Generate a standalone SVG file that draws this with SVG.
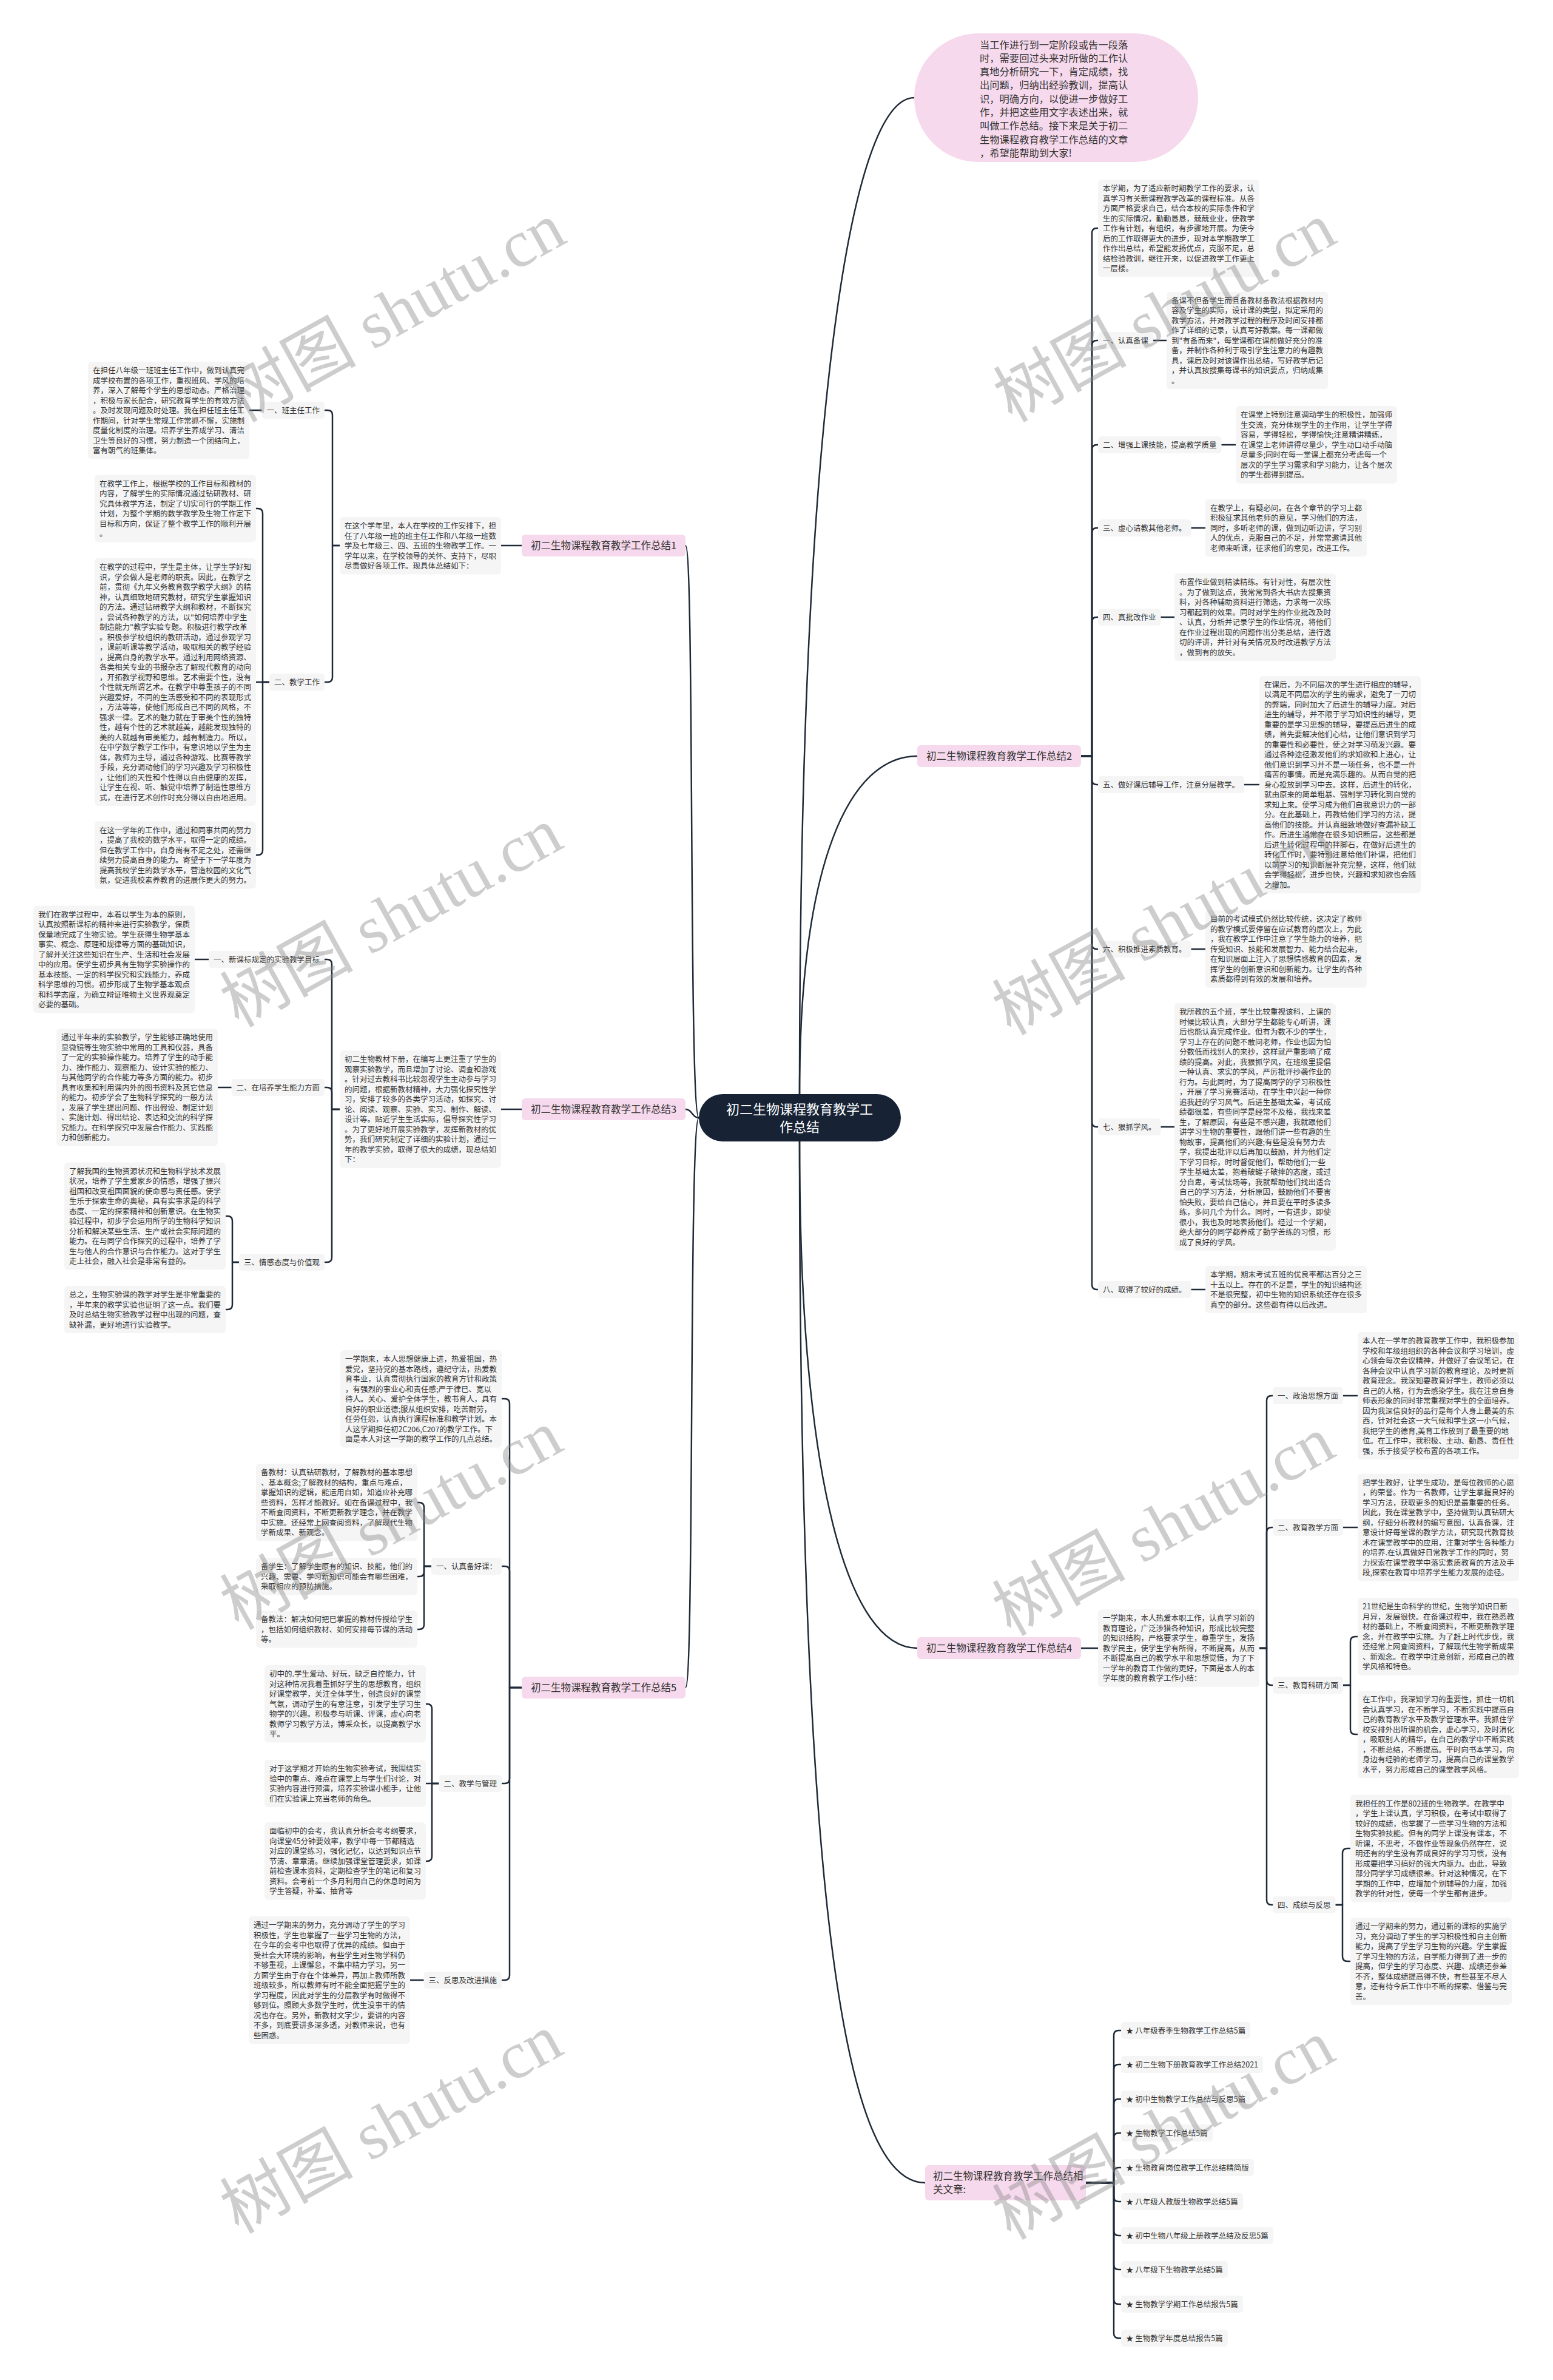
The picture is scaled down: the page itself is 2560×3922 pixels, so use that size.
<svg xmlns="http://www.w3.org/2000/svg" width="2560" height="3922" viewBox="0 0 2560 3922">
<style>
.c{fill:none;stroke:#1f2a38;stroke-width:2.5;stroke-linecap:round;stroke-linejoin:round}
.b{fill:#f5f5f5}
.p{fill:#f6d9ec}
.t{font-family:"Noto Sans CJK SC","Noto Sans",sans-serif;font-size:12.5px;fill:#333}
.t1{font-family:"Noto Sans CJK SC","Noto Sans",sans-serif;font-size:16.5px;fill:#333}
.ti{font-family:"Noto Sans CJK SC","Noto Sans",sans-serif;font-size:16.3px;fill:#333}
.tr{font-family:"Noto Sans CJK SC","Noto Sans",sans-serif;font-size:22px;fill:#ffffff}
.wm{font-family:"Liberation Serif","Noto Sans CJK SC",serif;font-size:110px;fill:#8a8a8a;opacity:.42}
</style>
<rect width="2560" height="3922" fill="#ffffff"/>

<g id="connectors">
<path class="c" d="M1318,1803 C1318,700 1400,161 1507,161"/>
<path class="c" d="M1318,1803 C1318,1420 1400,1246 1512,1246"/>
<path class="c" d="M1318,1881 C1318,2450 1400,2716 1512,2716"/>
<path class="c" d="M1318,1881 C1318,3200 1400,3597 1525,3597"/>
<path class="c" d="M1152,1842 C1135,1842 1145,899 1130,899"/>
<path class="c" d="M1152,1842 C1141,1842 1141,1828 1130,1828"/>
<path class="c" d="M1152,1842 C1135,1842 1145,2781 1130,2781"/>
<path class="c" d="M860,899 H826"/>
<path class="c" d="M560,899 H548 V684 Q548,676 540,676 H535"/>
<path class="c" d="M560,899 H548 V1116 Q548,1124 540,1124 H535"/>
<path class="c" d="M431.5,676 H411"/>
<path class="c" d="M444,1124 H433 V846 Q433,838 425,838 H422"/>
<path class="c" d="M444,1124 H422"/>
<path class="c" d="M444,1124 H433 V1401 Q433,1409 425,1409 H422"/>
<path class="c" d="M860,1828 H826"/>
<path class="c" d="M560,1828 H547 V1589 Q547,1581 539,1581 H535"/>
<path class="c" d="M560,1828 H547 V1800 Q547,1792 539,1792 H535"/>
<path class="c" d="M560,1828 H547 V2072 Q547,2080 539,2080 H535"/>
<path class="c" d="M344,1581 H321"/>
<path class="c" d="M381.5,1792 H359"/>
<path class="c" d="M394,2080 H383 V2012 Q383,2004 375,2004 H372"/>
<path class="c" d="M394,2080 H383 V2150 Q383,2158 375,2158 H372"/>
<path class="c" d="M860,2781 H840 V2313 Q840,2305 832,2305 H827"/>
<path class="c" d="M860,2781 H840 V2589 Q840,2581 832,2581 H827"/>
<path class="c" d="M860,2781 H840 V2931 Q840,2939 832,2939 H827"/>
<path class="c" d="M860,2781 H840 V3255 Q840,3263 832,3263 H827"/>
<path class="c" d="M711,2581 H699 V2484 Q699,2476 691,2476 H688"/>
<path class="c" d="M711,2581 H699 V2590 Q699,2598 691,2598 H688"/>
<path class="c" d="M711,2581 H699 V2677 Q699,2685 691,2685 H688"/>
<path class="c" d="M723.5,2939 H712 V2816 Q712,2808 704,2808 H702"/>
<path class="c" d="M723.5,2939 H702"/>
<path class="c" d="M723.5,2939 H712 V3059 Q712,3067 704,3067 H702"/>
<path class="c" d="M698.5,3263 H676"/>
<path class="c" d="M1782,1246 H1800 V384 Q1800,376 1808,376 H1810"/>
<path class="c" d="M1782,1246 H1800 V569 Q1800,561 1808,561 H1810"/>
<path class="c" d="M1782,1246 H1800 V741 Q1800,733 1808,733 H1810"/>
<path class="c" d="M1782,1246 H1800 V878 Q1800,870 1808,870 H1810"/>
<path class="c" d="M1782,1246 H1800 V1025 Q1800,1017 1808,1017 H1810"/>
<path class="c" d="M1782,1246 H1800 V1285 Q1800,1293 1808,1293 H1810"/>
<path class="c" d="M1782,1246 H1800 V1556 Q1800,1564 1808,1564 H1810"/>
<path class="c" d="M1782,1246 H1800 V1849 Q1800,1857 1808,1857 H1810"/>
<path class="c" d="M1782,1246 H1800 V2117 Q1800,2125 1808,2125 H1810"/>
<path class="c" d="M1901,561 H1923"/>
<path class="c" d="M2013.5,733 H2037"/>
<path class="c" d="M1963.5,870 H1987"/>
<path class="c" d="M1913.5,1017 H1936"/>
<path class="c" d="M2051,1293 H2076"/>
<path class="c" d="M1963.5,1564 H1987"/>
<path class="c" d="M1913.5,1857 H1936"/>
<path class="c" d="M1963.5,2125 H1987"/>
<path class="c" d="M1782,2716 H1810"/>
<path class="c" d="M2076,2716 H2088 V2308 Q2088,2300 2096,2300 H2098"/>
<path class="c" d="M2076,2716 H2088 V2525 Q2088,2517 2096,2517 H2098"/>
<path class="c" d="M2076,2716 H2088 V2769 Q2088,2777 2096,2777 H2098"/>
<path class="c" d="M2076,2716 H2088 V3131 Q2088,3139 2096,3139 H2098"/>
<path class="c" d="M2214,2300 H2238"/>
<path class="c" d="M2214,2517 H2238"/>
<path class="c" d="M2214,2777 H2226 V2705 Q2226,2697 2234,2697 H2238"/>
<path class="c" d="M2214,2777 H2226 V2850 Q2226,2858 2234,2858 H2238"/>
<path class="c" d="M2201.5,3139 H2213 V3054 Q2213,3046 2221,3046 H2226"/>
<path class="c" d="M2201.5,3139 H2213 V3224 Q2213,3232 2221,3232 H2226"/>
<path class="c" d="M1790,3597 H1836 V3354 Q1836,3346 1844,3346 H1848"/>
<path class="c" d="M1790,3597 H1836 V3410 Q1836,3402 1844,3402 H1848"/>
<path class="c" d="M1790,3597 H1836 V3467 Q1836,3459 1844,3459 H1848"/>
<path class="c" d="M1790,3597 H1836 V3523 Q1836,3515 1844,3515 H1848"/>
<path class="c" d="M1790,3597 H1836 V3580 Q1836,3572 1844,3572 H1848"/>
<path class="c" d="M1790,3597 H1836 V3620 Q1836,3628 1844,3628 H1848"/>
<path class="c" d="M1790,3597 H1836 V3676 Q1836,3684 1844,3684 H1848"/>
<path class="c" d="M1790,3597 H1836 V3732 Q1836,3740 1844,3740 H1848"/>
<path class="c" d="M1790,3597 H1836 V3789 Q1836,3797 1844,3797 H1848"/>
<path class="c" d="M1790,3597 H1836 V3845 Q1836,3853 1844,3853 H1848"/>
</g>

<g id="root"><rect x="1152" y="1803" width="333" height="78" rx="39" fill="#172335"/>
<text class="tr" x="1318" y="1836" text-anchor="middle">初二生物课程教育教学工<tspan x="1318" dy="29">作总结</tspan></text></g>

<g id="intro"><rect class="p" x="1507" y="55" width="468" height="212" rx="106"/>
<text class="ti" x="1615" y="79.5">当工作进行到一定阶段或告一段落<tspan x="1615" dy="22.3">时，需要回过头来对所做的工作认</tspan><tspan x="1615" dy="22.3">真地分析研究一下，肯定成绩，找</tspan><tspan x="1615" dy="22.3">出问题，归纳出经验教训，提高认</tspan><tspan x="1615" dy="22.3">识，明确方向，以便进一步做好工</tspan><tspan x="1615" dy="22.3">作，并把这些用文字表述出来，就</tspan><tspan x="1615" dy="22.3">叫做工作总结。接下来是关于初二</tspan><tspan x="1615" dy="22.3">生物课程教育教学工作总结的文章</tspan><tspan x="1615" dy="22.3">，希望能帮助到大家!</tspan></text></g>

<g id="b1"><rect class="p" x="860" y="881" width="270" height="36" rx="6"/><text class="t1" x="995" y="905" text-anchor="middle">初二生物课程教育教学工作总结1</text></g>
<g id="b1-intro"><rect class="b" x="560" y="852" width="266" height="94.5" rx="6"/>
<text class="t" x="568" y="871">在这个学年里，本人在学校的工作安排下，担<tspan x="568" dy="16.5">任了八年级一班的班主任工作和八年级一班数</tspan><tspan x="568" dy="16.5">学及七年级三、四、五班的生物教学工作。一</tspan><tspan x="568" dy="16.5">学年以来，在学校领导的关怀、支持下，尽职</tspan><tspan x="568" dy="16.5">尽责做好各项工作。现具体总结如下：</tspan></text></g>
<g id="b1-l1"><rect class="b" x="431.5" y="662" width="103.5" height="28" rx="5"/><text class="t" x="439.5" y="680.5">一、班主任工作</text></g>
<g id="b1-l1-t"><rect class="b" x="145" y="596" width="266" height="160.5" rx="6"/>
<text class="t" x="153" y="615">在担任八年级一班班主任工作中，做到认真完<tspan x="153" dy="16.5">成学校布置的各项工作，重视班风、学风的培</tspan><tspan x="153" dy="16.5">养，深入了解每个学生的思想动态。严格治理</tspan><tspan x="153" dy="16.5">，积极与家长配合，研究教育学生的有效方法</tspan><tspan x="153" dy="16.5">。及时发现问题及时处理。我在担任班主任工</tspan><tspan x="153" dy="16.5">作期间，针对学生常规工作常抓不懈，实施制</tspan><tspan x="153" dy="16.5">度量化制度的治理。培养学生养成学习、清洁</tspan><tspan x="153" dy="16.5">卫生等良好的习惯，努力制造一个团结向上，</tspan><tspan x="153" dy="16.5">富有朝气的班集体。</tspan></text></g>
<g id="b1-l2"><rect class="b" x="444" y="1110" width="91" height="28" rx="5"/><text class="t" x="452" y="1128.5">二、教学工作</text></g>
<g id="b1-l2-a"><rect class="b" x="156" y="782.5" width="266" height="111" rx="6"/>
<text class="t" x="164" y="801.5">在教学工作上，根据学校的工作目标和教材的<tspan x="164" dy="16.5">内容，了解学生的实际情况通过钻研教材、研</tspan><tspan x="164" dy="16.5">究具体教学方法，制定了切实可行的学期工作</tspan><tspan x="164" dy="16.5">计划，为整个学期的数学教学及生物工作定下</tspan><tspan x="164" dy="16.5">目标和方向，保证了整个教学工作的顺利开展</tspan><tspan x="164" dy="16.5">。</tspan></text></g>
<g id="b1-l2-b"><rect class="b" x="156" y="920" width="266" height="408" rx="6"/>
<text class="t" x="164" y="939">在教学的过程中，学生是主体，让学生学好知<tspan x="164" dy="16.5">识，学会做人是老师的职责。因此，在教学之</tspan><tspan x="164" dy="16.5">前，贯彻《九年义务教育数学教学大纲》的精</tspan><tspan x="164" dy="16.5">神，认真细致地研究教材，研究学生掌握知识</tspan><tspan x="164" dy="16.5">的方法。通过钻研教学大纲和教材，不断探究</tspan><tspan x="164" dy="16.5">，尝试各种教学的方法，以"如何培养中学生</tspan><tspan x="164" dy="16.5">制造能力"教学实验专题。积极进行教学改革</tspan><tspan x="164" dy="16.5">。积极参学校组织的教研活动，通过参观学习</tspan><tspan x="164" dy="16.5">，课前听课等教学活动，吸取相关的教学经验</tspan><tspan x="164" dy="16.5">，提高自身的教学水平。通过利用网络资源、</tspan><tspan x="164" dy="16.5">各类相关专业的书报杂志了解现代教育的动向</tspan><tspan x="164" dy="16.5">，开拓教学视野和思维。艺术需要个性，没有</tspan><tspan x="164" dy="16.5">个性就无所谓艺术。在教学中尊重孩子的不同</tspan><tspan x="164" dy="16.5">兴趣爱好，不同的生活感受和不同的表现形式</tspan><tspan x="164" dy="16.5">，方法等等，使他们形成自己不同的风格，不</tspan><tspan x="164" dy="16.5">强求一律。艺术的魅力就在于审美个性的独特</tspan><tspan x="164" dy="16.5">性，越有个性的艺术就越美，越能发现独特的</tspan><tspan x="164" dy="16.5">美的人就越有审美能力，越有制造力。所以，</tspan><tspan x="164" dy="16.5">在中学数学教学工作中，有意识地以学生为主</tspan><tspan x="164" dy="16.5">体，教师为主导，通过各种游戏、比赛等教学</tspan><tspan x="164" dy="16.5">手段，充分调动他们的学习兴趣及学习积极性</tspan><tspan x="164" dy="16.5">，让他们的天性和个性得以自由健康的发挥，</tspan><tspan x="164" dy="16.5">让学生在视、听、触觉中培养了制造性思维方</tspan><tspan x="164" dy="16.5">式，在进行艺术创作时充分得以自由地运用。</tspan></text></g>
<g id="b1-l2-c"><rect class="b" x="156" y="1353.5" width="266" height="111" rx="6"/>
<text class="t" x="164" y="1372.5">在这一学年的工作中，通过和同事共同的努力<tspan x="164" dy="16.5">，提高了我校的数学水平，取得一定的成绩。</tspan><tspan x="164" dy="16.5">但在教学工作中，自身尚有不足之处，还需继</tspan><tspan x="164" dy="16.5">续努力提高自身的能力。寄望于下一学年度为</tspan><tspan x="164" dy="16.5">提高我校学生的数学水平，营造校园的文化气</tspan><tspan x="164" dy="16.5">氛，促进我校素养教育的进展作更大的努力。</tspan></text></g>

<g id="b3"><rect class="p" x="860" y="1810" width="270" height="36" rx="6"/><text class="t1" x="995" y="1834" text-anchor="middle">初二生物课程教育教学工作总结3</text></g>
<g id="b3-intro"><rect class="b" x="560" y="1731.25" width="266" height="193.5" rx="6"/>
<text class="t" x="568" y="1750.25">初二生物教材下册，在编写上更注重了学生的<tspan x="568" dy="16.5">观察实验教学，而且增加了讨论、调查和游戏</tspan><tspan x="568" dy="16.5">。针对过去教科书比较忽视学生主动参与学习</tspan><tspan x="568" dy="16.5">的问题，根据新教材精神，大力强化探究性学</tspan><tspan x="568" dy="16.5">习，安排了较多的各类学习活动，如探究、讨</tspan><tspan x="568" dy="16.5">论、阅读、观察、实验、实习、制作、解读、</tspan><tspan x="568" dy="16.5">设计等。贴近学生生活实际，倡导探究性学习</tspan><tspan x="568" dy="16.5">。为了更好地开展实验教学，发挥新教材的优</tspan><tspan x="568" dy="16.5">势，我们研究制定了详细的实验计划，通过一</tspan><tspan x="568" dy="16.5">年的教学实验，取得了很大的成绩，现总结如</tspan><tspan x="568" dy="16.5">下：</tspan></text></g>
<g id="b3-l1"><rect class="b" x="344" y="1567" width="191" height="28" rx="5"/><text class="t" x="352" y="1585.5">一、新课标规定的实验教学目标</text></g>
<g id="b3-l1-t"><rect class="b" x="55" y="1492.5" width="266" height="177" rx="6"/>
<text class="t" x="63" y="1511.5">我们在教学过程中，本着以学生为本的原则，<tspan x="63" dy="16.5">认真按照新课标的精神来进行实验教学，保质</tspan><tspan x="63" dy="16.5">保量地完成了生物实验。学生获得生物学基本</tspan><tspan x="63" dy="16.5">事实、概念、原理和规律等方面的基础知识，</tspan><tspan x="63" dy="16.5">了解并关注这些知识在生产、生活和社会发展</tspan><tspan x="63" dy="16.5">中的应用。使学生初步具有生物学实验操作的</tspan><tspan x="63" dy="16.5">基本技能、一定的科学探究和实践能力，养成</tspan><tspan x="63" dy="16.5">科学思维的习惯。初步形成了生物学基本观点</tspan><tspan x="63" dy="16.5">和科学态度，为确立辩证唯物主义世界观奠定</tspan><tspan x="63" dy="16.5">必要的基础。</tspan></text></g>
<g id="b3-l2"><rect class="b" x="381.5" y="1778" width="153.5" height="28" rx="5"/><text class="t" x="389.5" y="1796.5">二、在培养学生能力方面</text></g>
<g id="b3-l2-t"><rect class="b" x="93" y="1695.25" width="266" height="193.5" rx="6"/>
<text class="t" x="101" y="1714.25">通过半年来的实验教学，学生能够正确地使用<tspan x="101" dy="16.5">显微镜等生物实验中常用的工具和仪器，具备</tspan><tspan x="101" dy="16.5">了一定的实验操作能力。培养了学生的动手能</tspan><tspan x="101" dy="16.5">力、操作能力、观察能力、设计实验的能力、</tspan><tspan x="101" dy="16.5">与其他同学的合作能力等多方面的能力。初步</tspan><tspan x="101" dy="16.5">具有收集和利用课内外的图书资料及其它信息</tspan><tspan x="101" dy="16.5">的能力。初步学会了生物科学探究的一般方法</tspan><tspan x="101" dy="16.5">，发展了学生提出问题、作出假设、制定计划</tspan><tspan x="101" dy="16.5">、实施计划、得出结论、表达和交流的科学探</tspan><tspan x="101" dy="16.5">究能力。在科学探究中发展合作能力、实践能</tspan><tspan x="101" dy="16.5">力和创新能力。</tspan></text></g>
<g id="b3-l3"><rect class="b" x="394" y="2066" width="141" height="28" rx="5"/><text class="t" x="402" y="2084.5">三、情感态度与价值观</text></g>
<g id="b3-l3-a"><rect class="b" x="106" y="1915.5" width="266" height="177" rx="6"/>
<text class="t" x="114" y="1934.5">了解我国的生物资源状况和生物科学技术发展<tspan x="114" dy="16.5">状况，培养了学生爱家乡的情感，增强了振兴</tspan><tspan x="114" dy="16.5">祖国和改变祖国面貌的使命感与责任感。使学</tspan><tspan x="114" dy="16.5">生乐于探索生命的奥秘，具有实事求是的科学</tspan><tspan x="114" dy="16.5">态度、一定的探索精神和创新意识。在生物实</tspan><tspan x="114" dy="16.5">验过程中，初步学会运用所学的生物科学知识</tspan><tspan x="114" dy="16.5">分析和解决某些生活、生产或社会实际问题的</tspan><tspan x="114" dy="16.5">能力。在与同学合作探究的过程中，培养了学</tspan><tspan x="114" dy="16.5">生与他人的合作意识与合作能力。这对于学生</tspan><tspan x="114" dy="16.5">走上社会，融入社会是非常有益的。</tspan></text></g>
<g id="b3-l3-b"><rect class="b" x="106" y="2119" width="266" height="78" rx="6"/>
<text class="t" x="114" y="2138">总之，生物实验课的教学对学生是非常重要的<tspan x="114" dy="16.5">，半年来的教学实验也证明了这一点。我们要</tspan><tspan x="114" dy="16.5">及时总结生物实验教学过程中出现的问题，查</tspan><tspan x="114" dy="16.5">缺补漏，更好地进行实验教学。</tspan></text></g>

<g id="b5"><rect class="p" x="860" y="2763" width="270" height="36" rx="6"/><text class="t1" x="995" y="2787" text-anchor="middle">初二生物课程教育教学工作总结5</text></g>
<g id="b5-intro"><rect class="b" x="561" y="2225" width="266" height="160.5" rx="6"/>
<text class="t" x="569" y="2244">一学期来，本人思想健康上进，热爱祖国，热<tspan x="569" dy="16.5">爱党，坚持党的基本路线，遵纪守法，热爱教</tspan><tspan x="569" dy="16.5">育事业，认真贯彻执行国家的教育方针和政策</tspan><tspan x="569" dy="16.5">，有强烈的事业心和责任感;严于律已、宽以</tspan><tspan x="569" dy="16.5">待人。关心、爱护全体学生，教书育人，具有</tspan><tspan x="569" dy="16.5">良好的职业道德;服从组织安排，吃苦耐劳，</tspan><tspan x="569" dy="16.5">任劳任怨，认真执行课程标准和教学计划。本</tspan><tspan x="569" dy="16.5">人这学期担任初2C206,C207的教学工作。下</tspan><tspan x="569" dy="16.5">面是本人对这一学期的教学工作的几点总结。</tspan></text></g>
<g id="b5-l1"><rect class="b" x="711" y="2567" width="116" height="28" rx="5"/><text class="t" x="719" y="2585.5">一、认真备好课：</text></g>
<g id="b5-l1-a"><rect class="b" x="422" y="2412" width="266" height="127.5" rx="6"/>
<text class="t" x="430" y="2431">备教材：认真钻研教材，了解教材的基本思想<tspan x="430" dy="16.5">、基本概念;了解教材的结构，重点与难点，</tspan><tspan x="430" dy="16.5">掌握知识的逻辑，能运用自如，知道应补充哪</tspan><tspan x="430" dy="16.5">些资料，怎样才能教好。如在备课过程中，我</tspan><tspan x="430" dy="16.5">不断查阅资料，不断更新教学理念，并在教学</tspan><tspan x="430" dy="16.5">中实施。还经常上网查阅资料，了解现代生物</tspan><tspan x="430" dy="16.5">学新成果、新观念。</tspan></text></g>
<g id="b5-l1-b"><rect class="b" x="422" y="2567" width="266" height="61.5" rx="6"/>
<text class="t" x="430" y="2586">备学生：了解学生原有的知识、技能，他们的<tspan x="430" dy="16.5">兴趣、需要、学习新知识可能会有哪些困难，</tspan><tspan x="430" dy="16.5">采取相应的预防措施。</tspan></text></g>
<g id="b5-l1-c"><rect class="b" x="422" y="2654" width="266" height="61.5" rx="6"/>
<text class="t" x="430" y="2673">备教法：解决如何把已掌握的教材传授给学生<tspan x="430" dy="16.5">，包括如何组织教材、如何安排每节课的活动</tspan><tspan x="430" dy="16.5">等。</tspan></text></g>
<g id="b5-l2"><rect class="b" x="723.5" y="2925" width="103.5" height="28" rx="5"/><text class="t" x="731.5" y="2943.5">二、教学与管理</text></g>
<g id="b5-l2-a"><rect class="b" x="436" y="2744" width="266" height="127.5" rx="6"/>
<text class="t" x="444" y="2763">初中的.学生爱动、好玩，缺乏自控能力，针<tspan x="444" dy="16.5">对这种情况我着重抓好学生的思想教育，组织</tspan><tspan x="444" dy="16.5">好课堂教学，关注全体学生，创造良好的课堂</tspan><tspan x="444" dy="16.5">气氛，调动学生的有意注意，引发学生学习生</tspan><tspan x="444" dy="16.5">物学的兴趣。积极参与听课、评课，虚心向老</tspan><tspan x="444" dy="16.5">教师学习教学方法，博采众长，以提高教学水</tspan><tspan x="444" dy="16.5">平。</tspan></text></g>
<g id="b5-l2-b"><rect class="b" x="436" y="2900" width="266" height="78" rx="6"/>
<text class="t" x="444" y="2919">对于这学期才开始的生物实验考试，我围绕实<tspan x="444" dy="16.5">验中的重点、难点在课堂上与学生们讨论，对</tspan><tspan x="444" dy="16.5">实验内容进行预演，培养实验课小能手，让他</tspan><tspan x="444" dy="16.5">们在实验课上充当老师的角色。</tspan></text></g>
<g id="b5-l2-c"><rect class="b" x="436" y="3003" width="266" height="127.5" rx="6"/>
<text class="t" x="444" y="3022">面临初中的会考，我认真分析会考考纲要求，<tspan x="444" dy="16.5">向课堂45分钟要效率，教学中每一节都精选</tspan><tspan x="444" dy="16.5">对应的课堂练习，强化记忆，以达到知识点节</tspan><tspan x="444" dy="16.5">节清、章章清。继续加强课堂管理要求，如课</tspan><tspan x="444" dy="16.5">前检查课本资料，定期检查学生的笔记和复习</tspan><tspan x="444" dy="16.5">资料。会考前一个多月利用自己的休息时间为</tspan><tspan x="444" dy="16.5">学生答疑，补差、抽背等</tspan></text></g>
<g id="b5-l3"><rect class="b" x="698.5" y="3249" width="128.5" height="28" rx="5"/><text class="t" x="706.5" y="3267.5">三、反思及改进措施</text></g>
<g id="b5-l3-t"><rect class="b" x="410" y="3158" width="266" height="210" rx="6"/>
<text class="t" x="418" y="3177">通过一学期来的努力，充分调动了学生的学习<tspan x="418" dy="16.5">积极性，学生也掌握了一些学习生物的方法，</tspan><tspan x="418" dy="16.5">在今年的会考中也取得了优异的成绩。但由于</tspan><tspan x="418" dy="16.5">受社会大环境的影响，有些学生对生物学科仍</tspan><tspan x="418" dy="16.5">不够重视，上课懈怠，不集中精力学习。另一</tspan><tspan x="418" dy="16.5">方面学生由于存在个体差异，再加上教师所教</tspan><tspan x="418" dy="16.5">班级较多，所以教师有时不能全面把握学生的</tspan><tspan x="418" dy="16.5">学习程度，因此对学生的分层教学有时做得不</tspan><tspan x="418" dy="16.5">够到位。照顾大多数学生时，优生没事干的情</tspan><tspan x="418" dy="16.5">况也存在。另外，新教材文字少，要讲的内容</tspan><tspan x="418" dy="16.5">不多，到底要讲多深多透，对教师来说，也有</tspan><tspan x="418" dy="16.5">些困惑。</tspan></text></g>

<g id="b2"><rect class="p" x="1512" y="1228" width="270" height="36" rx="6"/><text class="t1" x="1647" y="1252" text-anchor="middle">初二生物课程教育教学工作总结2</text></g>
<g id="b2-intro"><rect class="b" x="1810" y="296" width="266" height="160.5" rx="6"/>
<text class="t" x="1818" y="315">本学期，为了适应新时期教学工作的要求，认<tspan x="1818" dy="16.5">真学习有关新课程教学改革的课程标准。从各</tspan><tspan x="1818" dy="16.5">方面严格要求自己，结合本校的实际条件和学</tspan><tspan x="1818" dy="16.5">生的实际情况，勤勤恳恳，兢兢业业，使教学</tspan><tspan x="1818" dy="16.5">工作有计划，有组织，有步骤地开展。为使今</tspan><tspan x="1818" dy="16.5">后的工作取得更大的进步，现对本学期教学工</tspan><tspan x="1818" dy="16.5">作作出总结，希望能发扬优点，克服不足，总</tspan><tspan x="1818" dy="16.5">结检验教训，继往开来，以促进教学工作更上</tspan><tspan x="1818" dy="16.5">一层楼。</tspan></text></g>
<g id="b2-l1"><rect class="b" x="1810" y="547" width="91" height="28" rx="5"/><text class="t" x="1818" y="565.5">一、认真备课</text></g>
<g id="b2-l1-t"><rect class="b" x="1923" y="480.75" width="266" height="160.5" rx="6"/>
<text class="t" x="1931" y="499.75">备课不但备学生而且备教材备教法根据教材内<tspan x="1931" dy="16.5">容及学生的实际，设计课的类型，拟定采用的</tspan><tspan x="1931" dy="16.5">教学方法，并对教学过程的程序及时间安排都</tspan><tspan x="1931" dy="16.5">作了详细的记录，认真写好教案。每一课都做</tspan><tspan x="1931" dy="16.5">到"有备而来"，每堂课都在课前做好充分的准</tspan><tspan x="1931" dy="16.5">备，并制作各种利于吸引学生注意力的有趣教</tspan><tspan x="1931" dy="16.5">具，课后及时对该课作出总结，写好教学后记</tspan><tspan x="1931" dy="16.5">，并认真按搜集每课书的知识要点，归纳成集</tspan><tspan x="1931" dy="16.5">。</tspan></text></g>
<g id="b2-l2"><rect class="b" x="1810" y="719" width="203.5" height="28" rx="5"/><text class="t" x="1818" y="737.5">二、增强上课技能，提高教学质量</text></g>
<g id="b2-l2-t"><rect class="b" x="2037" y="669.25" width="266" height="127.5" rx="6"/>
<text class="t" x="2045" y="688.25">在课堂上特别注意调动学生的积极性，加强师<tspan x="2045" dy="16.5">生交流，充分体现学生的主作用，让学生学得</tspan><tspan x="2045" dy="16.5">容易，学得轻松，学得愉快;注意精讲精练，</tspan><tspan x="2045" dy="16.5">在课堂上老师讲得尽量少，学生动口动手动脑</tspan><tspan x="2045" dy="16.5">尽量多;同时在每一堂课上都充分考虑每一个</tspan><tspan x="2045" dy="16.5">层次的学生学习需求和学习能力，让各个层次</tspan><tspan x="2045" dy="16.5">的学生都得到提高。</tspan></text></g>
<g id="b2-l3"><rect class="b" x="1810" y="856" width="153.5" height="28" rx="5"/><text class="t" x="1818" y="874.5">三、虚心请教其他老师。</text></g>
<g id="b2-l3-t"><rect class="b" x="1987" y="822.75" width="266" height="94.5" rx="6"/>
<text class="t" x="1995" y="841.75">在教学上，有疑必问。在各个章节的学习上都<tspan x="1995" dy="16.5">积极征求其他老师的意见，学习他们的方法，</tspan><tspan x="1995" dy="16.5">同时，多听老师的课，做到边听边讲，学习别</tspan><tspan x="1995" dy="16.5">人的优点，克服自己的不足，并常常邀请其他</tspan><tspan x="1995" dy="16.5">老师来听课，征求他们的意见，改进工作。</tspan></text></g>
<g id="b2-l4"><rect class="b" x="1810" y="1003" width="103.5" height="28" rx="5"/><text class="t" x="1818" y="1021.5">四、真批改作业</text></g>
<g id="b2-l4-t"><rect class="b" x="1936" y="945" width="266" height="144" rx="6"/>
<text class="t" x="1944" y="964">布置作业做到精读精练。有针对性，有层次性<tspan x="1944" dy="16.5">。为了做到这点，我常常到各大书店去搜集资</tspan><tspan x="1944" dy="16.5">料，对各种辅助资料进行筛选，力求每一次练</tspan><tspan x="1944" dy="16.5">习都起到的效果。同时对学生的作业批改及时</tspan><tspan x="1944" dy="16.5">、认真，分析并记录学生的作业情况，将他们</tspan><tspan x="1944" dy="16.5">在作业过程出现的问题作出分类总结，进行透</tspan><tspan x="1944" dy="16.5">切的评讲，并针对有关情况及时改进教学方法</tspan><tspan x="1944" dy="16.5">，做到有的放矢。</tspan></text></g>
<g id="b2-l5"><rect class="b" x="1810" y="1279" width="241" height="28" rx="5"/><text class="t" x="1818" y="1297.5">五、做好课后辅导工作，注意分层教学。</text></g>
<g id="b2-l5-t"><rect class="b" x="2076" y="1113.75" width="266" height="358.5" rx="6"/>
<text class="t" x="2084" y="1132.75">在课后，为不同层次的学生进行相应的辅导，<tspan x="2084" dy="16.5">以满足不同层次的学生的需求，避免了一刀切</tspan><tspan x="2084" dy="16.5">的弊端，同时加大了后进生的辅导力度。对后</tspan><tspan x="2084" dy="16.5">进生的辅导，并不限于学习知识性的辅导，更</tspan><tspan x="2084" dy="16.5">重要的是学习思想的辅导，要提高后进生的成</tspan><tspan x="2084" dy="16.5">绩，首先要解决他们心结，让他们意识到学习</tspan><tspan x="2084" dy="16.5">的重要性和必要性，使之对学习萌发兴趣。要</tspan><tspan x="2084" dy="16.5">通过各种途径激发他们的求知欲和上进心，让</tspan><tspan x="2084" dy="16.5">他们意识到学习并不是一项任务，也不是一件</tspan><tspan x="2084" dy="16.5">痛苦的事情。而是充满乐趣的。从而自觉的把</tspan><tspan x="2084" dy="16.5">身心投放到学习中去。这样，后进生的转化，</tspan><tspan x="2084" dy="16.5">就由原来的简单粗暴、强制学习转化到自觉的</tspan><tspan x="2084" dy="16.5">求知上来。使学习成为他们自我意识力的一部</tspan><tspan x="2084" dy="16.5">分。在此基础上，再教给他们学习的方法，提</tspan><tspan x="2084" dy="16.5">高他们的技能。并认真细致地做好查漏补缺工</tspan><tspan x="2084" dy="16.5">作。后进生通常存在很多知识断层，这些都是</tspan><tspan x="2084" dy="16.5">后进生转化过程中的拌脚石，在做好后进生的</tspan><tspan x="2084" dy="16.5">转化工作时，要特别注意给他们补课，把他们</tspan><tspan x="2084" dy="16.5">以前学习的知识断层补充完整，这样，他们就</tspan><tspan x="2084" dy="16.5">会学得轻松，进步也快，兴趣和求知欲也会随</tspan><tspan x="2084" dy="16.5">之增加。</tspan></text></g>
<g id="b2-l6"><rect class="b" x="1810" y="1550" width="153.5" height="28" rx="5"/><text class="t" x="1818" y="1568.5">六、积极推进素质教育。</text></g>
<g id="b2-l6-t"><rect class="b" x="1987" y="1500.25" width="266" height="127.5" rx="6"/>
<text class="t" x="1995" y="1519.25">目前的考试模式仍然比较传统，这决定了教师<tspan x="1995" dy="16.5">的教学模式要停留在应试教育的层次上，为此</tspan><tspan x="1995" dy="16.5">，我在教学工作中注意了学生能力的培养，把</tspan><tspan x="1995" dy="16.5">传受知识、技能和发展智力、能力结合起来，</tspan><tspan x="1995" dy="16.5">在知识层面上注入了思想情感教育的因素，发</tspan><tspan x="1995" dy="16.5">挥学生的创新意识和创新能力。让学生的各种</tspan><tspan x="1995" dy="16.5">素质都得到有效的发展和培养。</tspan></text></g>
<g id="b2-l7"><rect class="b" x="1810" y="1843" width="103.5" height="28" rx="5"/><text class="t" x="1818" y="1861.5">七、狠抓学风。</text></g>
<g id="b2-l7-t"><rect class="b" x="1936" y="1653" width="266" height="408" rx="6"/>
<text class="t" x="1944" y="1672">我所教的五个班，学生比较重视该科，上课的<tspan x="1944" dy="16.5">时候比较认真，大部分学生都能专心听讲，课</tspan><tspan x="1944" dy="16.5">后也能认真完成作业。但有为数不少的学生，</tspan><tspan x="1944" dy="16.5">学习上存在的问题不敢问老师，作业也因为怕</tspan><tspan x="1944" dy="16.5">分数低而找别人的来抄，这样就严重影响了成</tspan><tspan x="1944" dy="16.5">绩的提高。对此，我狠抓学风，在班级里提倡</tspan><tspan x="1944" dy="16.5">一种认真、求实的学风，严厉批评抄袭作业的</tspan><tspan x="1944" dy="16.5">行为。与此同时，为了提高同学的学习积极性</tspan><tspan x="1944" dy="16.5">，开展了学习竞赛活动，在学生中兴起一种你</tspan><tspan x="1944" dy="16.5">追我赶的学习风气。后进生基础太差，考试成</tspan><tspan x="1944" dy="16.5">绩都很差，有些同学是经常不及格，我找来差</tspan><tspan x="1944" dy="16.5">生，了解原因，有些是不感兴趣，我就跟他们</tspan><tspan x="1944" dy="16.5">讲学习生物的重要性，跟他们讲一些有趣的生</tspan><tspan x="1944" dy="16.5">物故事，提高他们的兴趣;有些是没有努力去</tspan><tspan x="1944" dy="16.5">学，我提出批评以后再加以鼓励，并为他们定</tspan><tspan x="1944" dy="16.5">下学习目标，时时督促他们，帮助他们;一些</tspan><tspan x="1944" dy="16.5">学生基础太差，抱着破罐子破摔的态度，或过</tspan><tspan x="1944" dy="16.5">分自卑，考试怯场等，我就帮助他们找出适合</tspan><tspan x="1944" dy="16.5">自己的学习方法，分析原因，鼓励他们不要害</tspan><tspan x="1944" dy="16.5">怕失败，要给自己信心，并且要在平时多读多</tspan><tspan x="1944" dy="16.5">练，多问几个为什么。同时，一有进步，即使</tspan><tspan x="1944" dy="16.5">很小，我也及时地表扬他们。经过一个学期，</tspan><tspan x="1944" dy="16.5">绝大部分的同学都养成了勤学苦练的习惯，形</tspan><tspan x="1944" dy="16.5">成了良好的学风。</tspan></text></g>
<g id="b2-l8"><rect class="b" x="1810" y="2111" width="153.5" height="28" rx="5"/><text class="t" x="1818" y="2129.5">八、取得了较好的成绩。</text></g>
<g id="b2-l8-t"><rect class="b" x="1987" y="2086" width="266" height="78" rx="6"/>
<text class="t" x="1995" y="2105">本学期，期末考试五班的优良率都达百分之三<tspan x="1995" dy="16.5">十五以上。存在的不足是，学生的知识结构还</tspan><tspan x="1995" dy="16.5">不是很完整，初中生物的知识系统还存在很多</tspan><tspan x="1995" dy="16.5">真空的部分。这些都有待以后改进。</tspan></text></g>

<g id="b4"><rect class="p" x="1512" y="2698" width="270" height="36" rx="6"/><text class="t1" x="1647" y="2722" text-anchor="middle">初二生物课程教育教学工作总结4</text></g>
<g id="b4-intro"><rect class="b" x="1810" y="2652.25" width="266" height="127.5" rx="6"/>
<text class="t" x="1818" y="2671.25">一学期来，本人热爱本职工作，认真学习新的<tspan x="1818" dy="16.5">教育理论，广泛涉猎各种知识，形成比较完整</tspan><tspan x="1818" dy="16.5">的知识结构，严格要求学生，尊重学生，发扬</tspan><tspan x="1818" dy="16.5">教学民主，使学生学有所得，不断提高，从而</tspan><tspan x="1818" dy="16.5">不断提高自己的教学水平和思想觉悟，为了下</tspan><tspan x="1818" dy="16.5">一学年的教育工作做的更好，下面是本人的本</tspan><tspan x="1818" dy="16.5">学年度的教育教学工作小结：</tspan></text></g>
<g id="b4-l1"><rect class="b" x="2098" y="2286" width="116" height="28" rx="5"/><text class="t" x="2106" y="2304.5">一、政治思想方面</text></g>
<g id="b4-l1-t"><rect class="b" x="2238" y="2195" width="266" height="210" rx="6"/>
<text class="t" x="2246" y="2214">本人在一学年的教育教学工作中，我积极参加<tspan x="2246" dy="16.5">学校和年级组组织的各种会议和学习培训，虚</tspan><tspan x="2246" dy="16.5">心领会每次会议精神，并做好了会议笔记，在</tspan><tspan x="2246" dy="16.5">各种会议中认真学习新的教育理论，及时更新</tspan><tspan x="2246" dy="16.5">教育理念。我深知要教育好学生，教师必须以</tspan><tspan x="2246" dy="16.5">自己的人格，行为去感染学生。我在注意自身</tspan><tspan x="2246" dy="16.5">师表形象的同时非常重视对学生的全面培养。</tspan><tspan x="2246" dy="16.5">因为我深信良好的品行是每个人身上最美的东</tspan><tspan x="2246" dy="16.5">西，针对社会这一大气候和学生这一小气候，</tspan><tspan x="2246" dy="16.5">我把学生的德育,美育工作放到了最重要的地</tspan><tspan x="2246" dy="16.5">位。在工作中，我积极、主动、勤恳、责任性</tspan><tspan x="2246" dy="16.5">强，乐于接受学校布置的各项工作。</tspan></text></g>
<g id="b4-l2"><rect class="b" x="2098" y="2503" width="116" height="28" rx="5"/><text class="t" x="2106" y="2521.5">二、教育教学方面</text></g>
<g id="b4-l2-t"><rect class="b" x="2238" y="2428.5" width="266" height="177" rx="6"/>
<text class="t" x="2246" y="2447.5">把学生教好，让学生成功，是每位教师的心愿<tspan x="2246" dy="16.5">，的荣誉。作为一名教师，让学生掌握良好的</tspan><tspan x="2246" dy="16.5">学习方法，获取更多的知识是最重要的任务。</tspan><tspan x="2246" dy="16.5">因此，我在课堂教学中，坚持做到认真钻研大</tspan><tspan x="2246" dy="16.5">纲，仔细分析教材的编写意图，认真备课，注</tspan><tspan x="2246" dy="16.5">意设计好每堂课的教学方法，研究现代教育技</tspan><tspan x="2246" dy="16.5">术在课堂教学中的应用，注重对学生各种能力</tspan><tspan x="2246" dy="16.5">的培养.在认真做好日常教学工作的同时，努</tspan><tspan x="2246" dy="16.5">力探索在课堂教学中落实素质教育的方法及手</tspan><tspan x="2246" dy="16.5">段,探索在教育中培养学生能力发展的途径。</tspan></text></g>
<g id="b4-l3"><rect class="b" x="2098" y="2763" width="116" height="28" rx="5"/><text class="t" x="2106" y="2781.5">三、教育科研方面</text></g>
<g id="b4-l3-a"><rect class="b" x="2238" y="2633.25" width="266" height="127.5" rx="6"/>
<text class="t" x="2246" y="2652.25">21世纪是生命科学的世纪，生物学知识日新<tspan x="2246" dy="16.5">月异，发展很快。在备课过程中，我在熟悉教</tspan><tspan x="2246" dy="16.5">材的基础上，不断查阅资料，不断更新教学理</tspan><tspan x="2246" dy="16.5">念，并在教学中实施。为了赶上时代步伐，我</tspan><tspan x="2246" dy="16.5">还经常上网查阅资料，了解现代生物学新成果</tspan><tspan x="2246" dy="16.5">、新观念。在教学中注意创新，形成自己的教</tspan><tspan x="2246" dy="16.5">学风格和特色。</tspan></text></g>
<g id="b4-l3-b"><rect class="b" x="2238" y="2786" width="266" height="144" rx="6"/>
<text class="t" x="2246" y="2805">在工作中，我深知学习的重要性，抓住一切机<tspan x="2246" dy="16.5">会认真学习，在不断学习，不断实践中提高自</tspan><tspan x="2246" dy="16.5">己的教育教学水平及教学管理水平。我抓住学</tspan><tspan x="2246" dy="16.5">校安排外出听课的机会，虚心学习，及时消化</tspan><tspan x="2246" dy="16.5">，吸取别人的精华，在自己的教学中不断实践</tspan><tspan x="2246" dy="16.5">，不断总结，不断提高。平时向书本学习，向</tspan><tspan x="2246" dy="16.5">身边有经验的老师学习，提高自己的课堂教学</tspan><tspan x="2246" dy="16.5">水平，努力形成自己的课堂教学风格。</tspan></text></g>
<g id="b4-l4"><rect class="b" x="2098" y="3125" width="103.5" height="28" rx="5"/><text class="t" x="2106" y="3143.5">四、成绩与反思</text></g>
<g id="b4-l4-a"><rect class="b" x="2226" y="2957.5" width="266" height="177" rx="6"/>
<text class="t" x="2234" y="2976.5">我担任的工作是802班的生物教学。在教学中<tspan x="2234" dy="16.5">，学生上课认真，学习积极，在考试中取得了</tspan><tspan x="2234" dy="16.5">较好的成绩，也掌握了一些学习生物的方法和</tspan><tspan x="2234" dy="16.5">生物实验技能。但有的同学上课没有课本，不</tspan><tspan x="2234" dy="16.5">听课，不思考，不做作业等现象仍然存在，说</tspan><tspan x="2234" dy="16.5">明还有的学生没有养成良好的学习习惯，没有</tspan><tspan x="2234" dy="16.5">形成要把学习搞好的强大内驱力。由此，导致</tspan><tspan x="2234" dy="16.5">部分同学学习成绩很差。针对这种情况，在下</tspan><tspan x="2234" dy="16.5">学期的工作中，应增加个别辅导的力度，加强</tspan><tspan x="2234" dy="16.5">教学的针对性，使每一个学生都有进步。</tspan></text></g>
<g id="b4-l4-b"><rect class="b" x="2226" y="3160" width="266" height="144" rx="6"/>
<text class="t" x="2234" y="3179">通过一学期来的努力，通过新的课标的实施学<tspan x="2234" dy="16.5">习，充分调动了学生的学习积极性和自主创新</tspan><tspan x="2234" dy="16.5">能力，提高了学生学习生物的兴趣。学生掌握</tspan><tspan x="2234" dy="16.5">了学习生物的方法，自学能力得到了进一步的</tspan><tspan x="2234" dy="16.5">提高，但学生的学习态度、兴趣、成绩还参差</tspan><tspan x="2234" dy="16.5">不齐，整体成绩提高得不快，有些甚至不尽人</tspan><tspan x="2234" dy="16.5">意，还有待今后工作中不断的探索、借鉴与完</tspan><tspan x="2234" dy="16.5">善。</tspan></text></g>

<g id="related"><rect class="p" x="1525" y="3568" width="265" height="58" rx="6"/>
<text class="t1" x="1538" y="3592">初二生物课程教育教学工作总结相<tspan x="1538" dy="22">关文章:</tspan></text></g>
<g id="r1"><rect class="b" x="1848" y="3332" width="213" height="28" rx="5"/><text class="t" x="1856" y="3350.5">★ 八年级春季生物教学工作总结5篇</text></g>
<g id="r2"><rect class="b" x="1848" y="3388" width="234" height="28" rx="5"/><text class="t" x="1856" y="3406.5">★ 初二生物下册教育教学工作总结2021</text></g>
<g id="r3"><rect class="b" x="1848" y="3445" width="213" height="28" rx="5"/><text class="t" x="1856" y="3463.5">★ 初中生物教学工作总结与反思5篇</text></g>
<g id="r4"><rect class="b" x="1848" y="3501" width="151" height="28" rx="5"/><text class="t" x="1856" y="3519.5">★ 生物教学工作总结5篇</text></g>
<g id="r5"><rect class="b" x="1848" y="3558" width="219" height="28" rx="5"/><text class="t" x="1856" y="3576.5">★ 生物教育岗位教学工作总结精简版</text></g>
<g id="r6"><rect class="b" x="1848" y="3614" width="201" height="28" rx="5"/><text class="t" x="1856" y="3632.5">★ 八年级人教版生物教学总结5篇</text></g>
<g id="r7"><rect class="b" x="1848" y="3670" width="251" height="28" rx="5"/><text class="t" x="1856" y="3688.5">★ 初中生物八年级上册教学总结及反思5篇</text></g>
<g id="r8"><rect class="b" x="1848" y="3726" width="176" height="28" rx="5"/><text class="t" x="1856" y="3744.5">★ 八年级下生物教学总结5篇</text></g>
<g id="r9"><rect class="b" x="1848" y="3783" width="201" height="28" rx="5"/><text class="t" x="1856" y="3801.5">★ 生物教学学期工作总结报告5篇</text></g>
<g id="r10"><rect class="b" x="1848" y="3839" width="176" height="28" rx="5"/><text class="t" x="1856" y="3857.5">★ 生物教学年度总结报告5篇</text></g>

<g id="watermarks" text-anchor="middle">
<text class="wm" transform="translate(650,515) rotate(-29)" dominant-baseline="central">树图 shutu.cn</text>
<text class="wm" transform="translate(1920,515) rotate(-29)" dominant-baseline="central">树图 shutu.cn</text>
<text class="wm" transform="translate(645,1512) rotate(-29)" dominant-baseline="central">树图 shutu.cn</text>
<text class="wm" transform="translate(1918,1525) rotate(-29)" dominant-baseline="central">树图 shutu.cn</text>
<text class="wm" transform="translate(645,2505) rotate(-29)" dominant-baseline="central">树图 shutu.cn</text>
<text class="wm" transform="translate(1918,2515) rotate(-29)" dominant-baseline="central">树图 shutu.cn</text>
<text class="wm" transform="translate(645,3500) rotate(-29)" dominant-baseline="central">树图 shutu.cn</text>
<text class="wm" transform="translate(1918,3510) rotate(-29)" dominant-baseline="central">树图 shutu.cn</text>
</g>
</svg>
